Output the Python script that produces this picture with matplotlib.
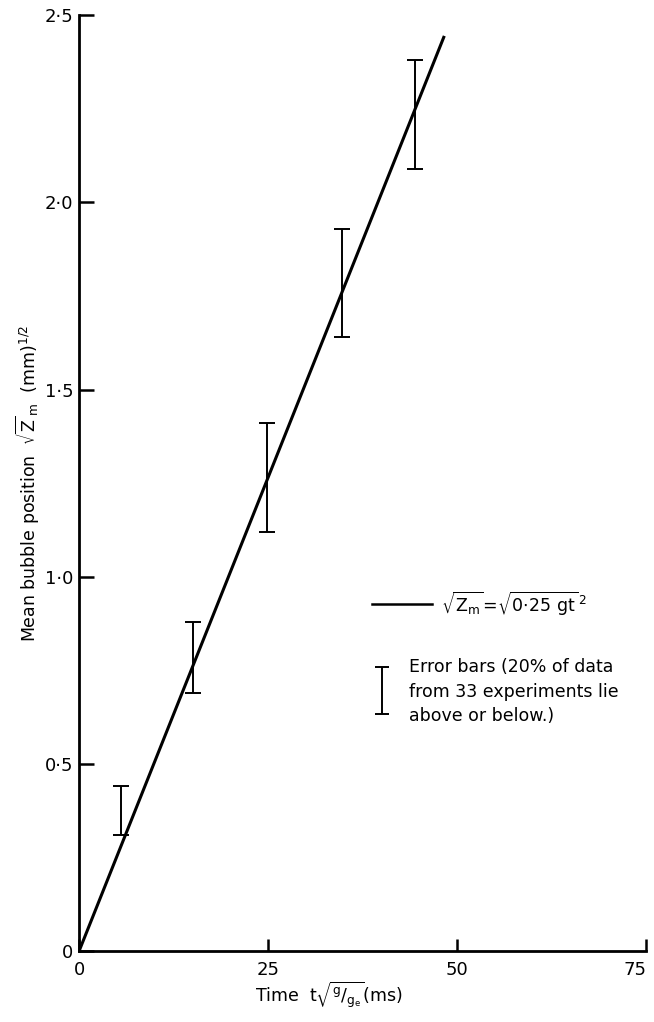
import numpy as np
import matplotlib
matplotlib.use('Agg')
import matplotlib.pyplot as plt


# error bars (time, upper and lower bubble position)
t_err = [5.5, 15.1, 24.8, 34.75, 44.4]
z_hi = [0.44, 0.88, 1.41, 1.93, 2.38]
z_lo = [0.31, 0.69, 1.12, 1.64, 2.09]

# fitted line sqrt(Zm) = sqrt(0.25 g t^2), end points
fit_t = [0, 48.3]
fit_z = [0, 2.445]

x_ticks = [0, 25, 50, 75]
x_ticklabels = ['0', '25', '50', '75']
y_ticks = [0, 0.5, 1.0, 1.5, 2.0, 2.5]
y_ticklabels = ['0', '0·5', '1·0', '1·5', '2·0', '2·5']

legend_fit = r'$\sqrt{Z_m}\!=\!\sqrt{0{\cdot}25\ gt}^{\,2}$'
legend_err = 'Error bars (20% of data\nfrom 33 experiments lie\nabove or below.)'

plt.rcParams['font.family'] = ['DejaVu Sans']
plt.rcParams['mathtext.fontset'] = 'dejavusans'
plt.rcParams['mathtext.default'] = 'regular'

fig = plt.figure(figsize=(6.54, 10.22), dpi=100)
ax = fig.add_axes([0.121, 0.0695, 0.867, 0.9155])

# fitted line
ax.plot(fit_t, fit_z, color='black', lw=2.2, solid_capstyle='butt')

# error bars
z_hi = np.array(z_hi)
z_lo = np.array(z_lo)
z_mid = (z_hi + z_lo) / 2
ax.errorbar(t_err, z_mid, yerr=(z_hi - z_lo) / 2, fmt='none', ecolor='black',
            elinewidth=1.4, capsize=6, capthick=1.4)

# hand drawn key
ax.plot([38.8, 46.7], [0.927, 0.927], color='black', lw=1.8)
ax.text(47.8, 0.927, legend_fit, fontsize=12.5, va='center', ha='left')
ax.errorbar([40.1], [0.696], yerr=[0.063], fmt='none', ecolor='black',
            elinewidth=1.4, capsize=5, capthick=1.4)
ax.text(43.6, 0.782, legend_err, fontsize=12.5, va='top', ha='left', linespacing=1.45)

ax.set_xlim(0, 75)
ax.set_ylim(0, 2.5)
ax.set_xticks(x_ticks)
ax.set_xticklabels(x_ticklabels)
ax.set_yticks(y_ticks)
ax.set_yticklabels(y_ticklabels)
ax.tick_params(axis='y', direction='in', length=11, width=1.8, labelsize=13, pad=4)
ax.tick_params(axis='x', direction='in', length=8.5, width=1.8, labelsize=13, pad=7)
ax.get_xticklabels()[-1].set_horizontalalignment('right')
ax.spines[['top', 'right']].set_visible(False)
ax.spines[['left', 'bottom']].set_linewidth(2)

ax.set_ylabel(r'Mean bubble position  $\sqrt{Z}_{\,m}$  (mm)$^{1/2}$', fontsize=12.5, labelpad=2)
ax.set_xlabel(r'Time  $t\sqrt{^g/_{g_e}}$(ms)', fontsize=12.5)
ax.xaxis.set_label_coords(0.44, -0.031)

plt.savefig('out.png', dpi=100)
plt.close()
